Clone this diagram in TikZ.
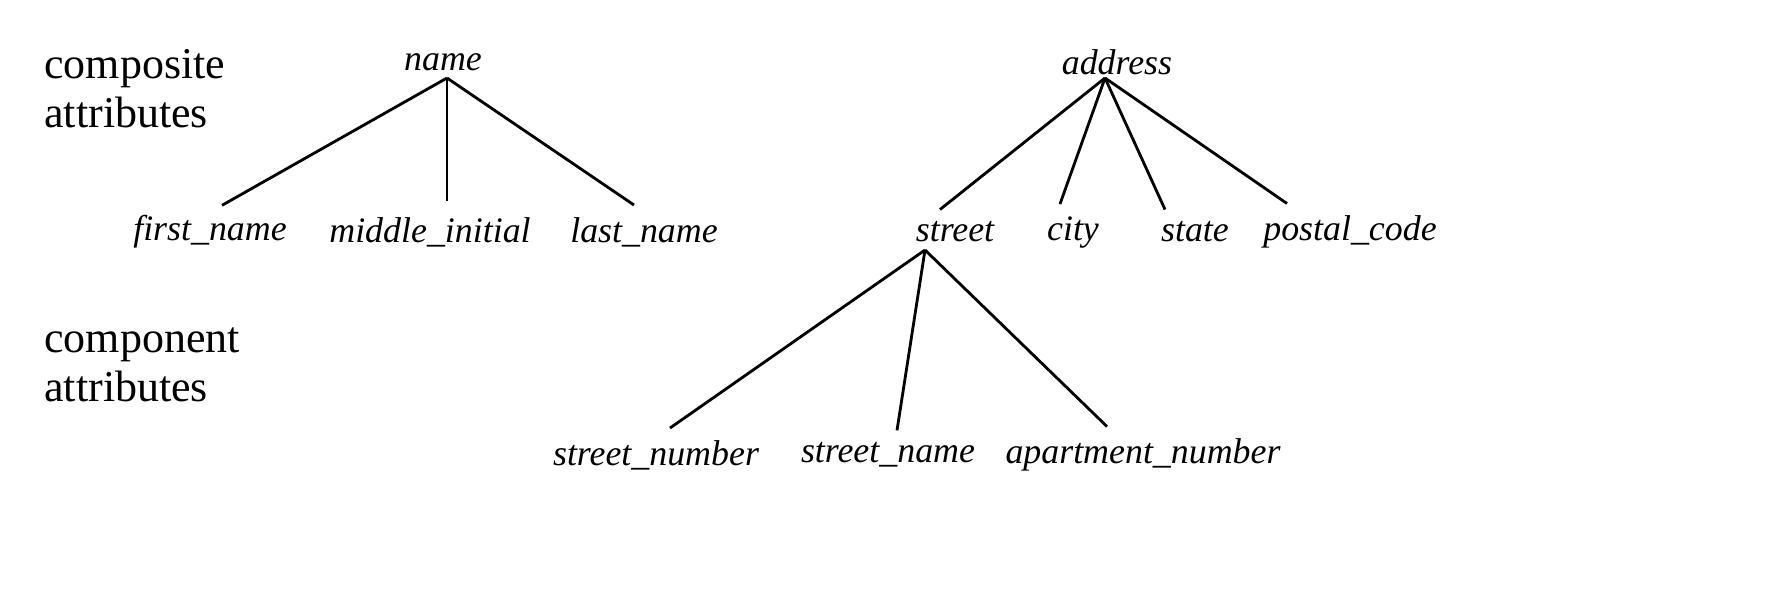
\documentclass[tikz,border=0pt]{standalone}
\usepackage{fontspec}
\setmainfont{Liberation Serif}
\usetikzlibrary{calc}
\begin{document}
\begin{tikzpicture}[x=0.01cm,y=-0.01cm,
  attr/.style={font=\fontsize{10.2}{12}\selectfont\itshape,inner sep=1pt},
  side/.style={font=\fontsize{12.5}{14}\selectfont,align=left,anchor=west},
  edge/.style={line width=0.8pt}]
\useasboundingbox (0,0) rectangle (1766,597);
% labels on the left
\node[side] (comp) at (32,89) {composite\\attributes};
\node[side] (compo) at (32,365) {component\\attributes};
% name tree
\node[attr] (name) at (443,62) {name};
\node[attr] (first) at (210,232) {first\_name};
\node[attr] (middle) at (430,232) {middle\_initial};
\node[attr] (last) at (644,232) {last\_name};
\coordinate (nametop) at (447,78);
\draw[edge] (nametop) -- ($(first.north)+(12,-6)$);
\draw[edge] (nametop) -- ($(middle.north)+(17,-12)$);
\draw[edge] (nametop) -- ($(last.north)+(-10,-8)$);
% address tree
\node[attr] (address) at (1117,62) {address};
\node[attr] (street) at (955,232) {street};
\node[attr] (city) at (1073,232) {city};
\node[attr] (state) at (1195,232) {state};
\node[attr] (postal) at (1350,232) {postal\_code};
\coordinate (addrtop) at (1105,78);
\draw[edge] (addrtop) -- ($(street.north)+(-15,-8)$);
\draw[edge] (addrtop) -- ($(city.north)+(-13,-8)$);
\draw[edge] (addrtop) -- ($(state.north)+(-30,-8)$);
\draw[edge] (addrtop) -- ($(postal.north)+(-63,-8)$);
% street tree
\node[attr] (number) at (656,455) {street\_number};
\node[attr] (sname) at (888,455) {street\_name};
\node[attr] (apt) at (1143,455) {apartment\_number};
\coordinate (streettop) at (925,250);
\draw[edge] (streettop) -- ($(number.north)+(14,-8)$);
\draw[edge] (streettop) -- ($(sname.north)+(9,-8)$);
\draw[edge] (streettop) -- ($(apt.north)+(-36,-8)$);
\end{tikzpicture}
\end{document}
